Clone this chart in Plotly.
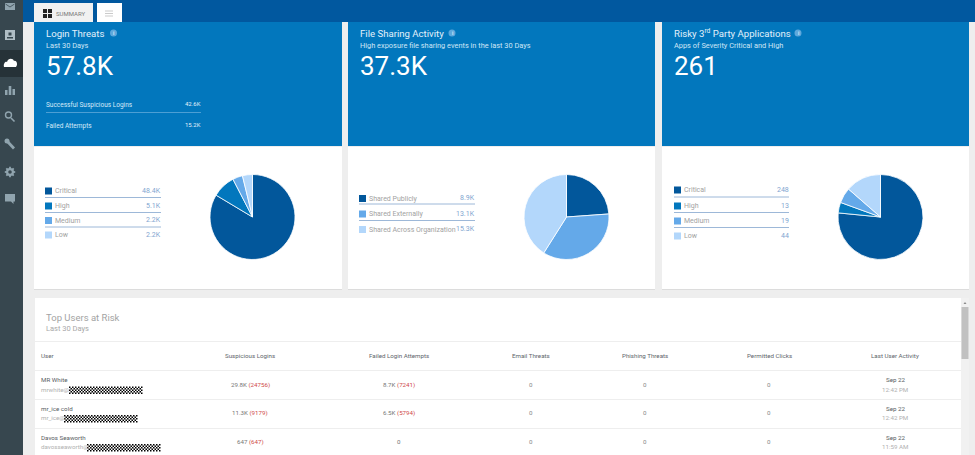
import plotly.graph_objects as go

# card headers
card_titles = ["Login Threats", "File Sharing Activity", "Risky 3<sup>rd</sup> Party Applications"]
card_subtitles = ["Last 30 Days", "High exposure file sharing events in the last 30 Days", "Apps of Severity Critical and High"]
card_totals = ["57.8K", "37.3K", "261"]
login_rows = ["Successful Suspicious Logins", "Failed Attempts"]
login_values = ["42.6K", "15.2K"]

# pies
login_labels = ["Critical", "High", "Medium", "Low"]
login_counts = [48400, 5100, 2200, 2200]
login_texts = ["48.4K", "5.1K", "2.2K", "2.2K"]
share_labels = ["Shared Publicly", "Shared Externally", "Shared Across Organization"]
share_counts = [8900, 13100, 15300]
share_texts = ["8.9K", "13.1K", "15.3K"]
app_labels = ["Critical", "High", "Medium", "Low"]
app_counts = [248, 13, 19, 44]
app_texts = ["248", "13", "19", "44"]

# table
table_headers = ["Suspicious Logins", "Failed Login Attempts", "Email Threats", "Phishing Threats", "Permitted Clicks", "Last User Activity"]
user_names = ["MR White", "mr_ice cold", "Davos Seaworth"]
user_mails = ["mrwhite@", "mr_ice@", "davosseaworth@"]
suspicious = [("29.8K", "(24756)"), ("11.3K", "(9179)"), ("647", "(647)")]
failed = [("8.7K", "(7241)"), ("6.5K", "(5794)"), ("0", "")]
email_threats = ["0", "0", "0"]
phishing_threats = ["0", "0", "0"]
permitted_clicks = ["0", "0", "0"]
last_dates = ["Sep 22", "Sep 22", "Sep 22"]
last_times = ["12:42 PM", "12:42 PM", "11:59 AM"]

DARK = "#02579b"
BLUE = "#0277bd"
MID = "#64a9e9"
LIGHT = "#b3d7fb"
TEXT = "#60656b"
FONT = "Roboto"
W, H = 975, 455

fig = go.Figure()
# invisible trace so the pixel axes exist
fig.add_trace(go.Scatter(x=[], y=[], showlegend=False, hoverinfo="skip"))


def rect(x0, y0, x1, y1, color):
    fig.add_shape(type="rect", x0=x0, y0=y0, x1=x1, y1=y1, fillcolor=color,
                  line_width=0, layer="below")


def hline(x0, x1, y, color="#9db8d8", width=1):
    fig.add_shape(type="line", x0=x0, x1=x1, y0=y, y1=y, layer="below",
                  line=dict(color=color, width=width))


def path(d, color):
    fig.add_shape(type="path", path=d, fillcolor=color, line_width=0, layer="below")


def label(x, y, text, size=7, color=TEXT, anchor="left"):
    fig.add_annotation(x=x, y=y, text=text, showarrow=False, xanchor=anchor, yanchor="middle",
                       font=dict(family=FONT, size=size, color=color), borderpad=0, borderwidth=0)


def add_pie(cx, counts, names, colors):
    cy, r = 217, 42.5
    fig.add_trace(go.Pie(values=counts, labels=names, sort=False, direction="clockwise", rotation=0,
                         textinfo="none", hoverinfo="skip", showlegend=False,
                         marker=dict(colors=colors, line=dict(color="white", width=0.8)),
                         domain=dict(x=[(cx - r) / W, (cx + r) / W], y=[1 - (cy + r) / H, 1 - (cy - r) / H])))


def add_legend(x0, x1, rows, lines, names, texts, colors):
    for y, name, txt, col in zip(rows, names, texts, colors):
        rect(x0, y - 3.5, x0 + 7, y + 3.5, col)
        label(x0 + 10, y, name, 7, "#a2a2a2")
        label(x1, y - 0.5, txt, 7, "#7fa6d0", "right")
    for y in lines:
        hline(x0, x1, y)


def checker(x0, x1, y0, y1):
    # redacted part of the mail address
    cells, y, j = [], y0, 0
    while y < y1:
        x, i = x0, 0
        while x < x1:
            if (i + j) % 2 == 0:
                cells.append(f"M{x},{y}H{x + 1.5}V{y + 1.5}H{x}Z")
            x += 1.5
            i += 1
        y += 1.5
        j += 1
    path("".join(cells), "#000000")


# page chrome
rect(0, 0, W, H, "#eeeeee")
rect(23, 0, W, 22, "#01589f")
rect(0, 0, 23, H, "#37474f")
rect(0, 50, 23, 77, "#263238")
rect(34, 3, 93, 22, "#f1f1f1")
rect(97, 3, 122, 22, "#ffffff")
for sx, sy in [(43, 9), (48, 9), (43, 14), (48, 14)]:
    rect(sx, sy, sx + 4, sy + 4, "#222222")
label(56, 13, "SUMMARY", 6, "#777777")
for ly in [11, 13.5, 16]:
    hline(105, 113, ly, "#b5b5b5", 0.7)

# side icons
ICON = "#90a4ae"
path("M5,3H15V10H5Z", ICON)
fig.add_shape(type="path", path="M5.5,4L10,7L14.5,4", line=dict(color="#37474f", width=0.8), layer="below")
path("M5,30H15V40H5Z", "#b0bec5")
path("M8.5,32.5H11.5V35.5H8.5ZM7,37H13V38.5H7Z", "#37474f")
path("M4,67C3,63 6,61 7,62C8,58 13,58 14,61C17,60 18,65 16,67Z", "#ffffff")
path("M5,90H7.5V95H5ZM8.7,86H11.3V95H8.7ZM12.5,89H15V95H12.5Z", ICON)
fig.add_shape(type="circle", x0=5.5, y0=112, x1=11.5, y1=118, line=dict(color=ICON, width=1.4), layer="below")
fig.add_shape(type="line", x0=11, y0=118, x1=14.5, y1=121.5, line=dict(color=ICON, width=1.6), layer="below")
fig.add_shape(type="line", x0=7, y0=141, x1=14, y1=148.5, line=dict(color=ICON, width=2.8), layer="below")
fig.add_shape(type="circle", x0=4.5, y0=138.5, x1=9.5, y1=143.5, fillcolor=ICON, line_width=0, layer="below")
fig.add_shape(type="circle", x0=6, y0=168, x1=14, y1=176, fillcolor=ICON, line_width=0, layer="below")
for tx0, ty0, tx1, ty1 in [(10, 166.8, 10, 177.2), (4.8, 172, 15.2, 172), (6.3, 168.3, 13.7, 175.7), (13.7, 168.3, 6.3, 175.7)]:
    fig.add_shape(type="line", x0=tx0, y0=ty0, x1=tx1, y1=ty1, line=dict(color=ICON, width=1.8), layer="below")
fig.add_shape(type="circle", x0=8.2, y0=170.2, x1=11.8, y1=173.8, fillcolor="#37474f", line_width=0, layer="below")
path("M5,194H15V201.5H13.5V204L11,201.5H5Z", ICON)

# cards
card_x = [(34, 342), (348, 655), (662, 969)]
text_x = [46, 360, 674]
info_x = [113.5, 452, 798]
for (x0, x1), tx, ix, title, sub, total in zip(card_x, text_x, info_x, card_titles, card_subtitles, card_totals):
    rect(x0, 22, x1, 146, BLUE)
    rect(x0, 147, x1, 289, "#ffffff")
    hline(x0, x1, 289.5, "#dcdcdc", 1)
    label(tx, 33, title, 9.6, "#e3f1fb")
    label(tx, 45.5, sub, 7.4, "#cfe6f6")
    label(tx, 66, total, 26, "#ffffff")
    fig.add_shape(type="circle", x0=ix - 3.5, y0=29.5, x1=ix + 3.5, y1=36.5, fillcolor="#5ea8dc", line_width=0, layer="below")
    label(ix, 33, "i", 5.5, "#ffffff", "center")

# login breakdown on blue
label(46, 104.5, login_rows[0], 6.5, "#d6eaf8")
label(201, 103.5, login_values[0], 6, "#e3f1fb", "right")
hline(46, 201, 112.5, "#4d9fd4")
label(46, 125.5, login_rows[1], 6.5, "#d6eaf8")
label(201, 124.5, login_values[1], 6, "#e3f1fb", "right")

# legends and pies
add_legend(45, 161, [191, 206, 220.5, 235], [197.5, 212.5, 227], login_labels, login_texts, [DARK, BLUE, MID, LIGHT])
add_legend(359, 475, [198.5, 214, 229.5], [204, 220.5], share_labels, share_texts, [DARK, MID, LIGHT])
add_legend(674, 789, [190, 206, 221, 236], [197, 212.5, 227.5], app_labels, app_texts, [DARK, BLUE, MID, LIGHT])
add_pie(252.5, login_counts, login_labels, [DARK, BLUE, MID, LIGHT])
add_pie(566.5, share_counts, share_labels, [DARK, MID, LIGHT])
add_pie(880.5, app_counts, app_labels, [DARK, BLUE, MID, LIGHT])

# table panel
rect(35, 298, 961, H, "#ffffff")
rect(961, 298, 969, H, "#f1f1f1")
rect(961.5, 307, 968.5, 359, "#c1c1c1")
path("M963.5,304L965,302L966.5,304Z", "#8a8a8a")
label(46, 317, "Top Users at Risk", 9.5, "#a3a3a3")
label(46, 328.5, "Last 30 Days", 7.5, "#a8a8a8")
for ly in [341.5, 370.5, 399.5, 428.5]:
    hline(35, 961, ly, "#eeeeee")

col_x = [250, 399, 531, 645, 769, 895]
label(41, 355.5, "User", 6.2, TEXT)
for cx, head in zip(col_x, table_headers):
    label(cx, 355.5, head, 6.2, TEXT, "center")

row_mid = [384.5, 413, 442]
mask_x = [(69, 142), (64, 137), (87, 160)]
for i, ym in enumerate(row_mid):
    label(41, ym - 4.5, user_names[i], 6.2, "#585d63")
    label(41, ym + 5, user_mails[i], 6.2, "#b0b0b0")
    checker(mask_x[i][0], mask_x[i][1], ym + 2, ym + 8.5)
    for cx, pair in zip(col_x[:2], [suspicious[i], failed[i]]):
        red = f" <span style='color:#cf4a4a'>{pair[1]}</span>" if pair[1] else ""
        label(cx, ym, pair[0] + red, 6.2, "#777777", "center")
    for cx, val in zip(col_x[2:5], [email_threats[i], phishing_threats[i], permitted_clicks[i]]):
        label(cx, ym, val, 6.2, "#888888", "center")
    label(col_x[5], ym - 4.5, last_dates[i], 6.2, "#585d63", "center")
    label(col_x[5], ym + 5, last_times[i], 6.2, "#b0b0b0", "center")

fig.update_layout(
    width=W, height=H, margin=dict(l=0, r=0, t=0, b=0, pad=0),
    paper_bgcolor="#eeeeee", plot_bgcolor="rgba(0,0,0,0)", showlegend=False,
    xaxis=dict(range=[0, W], visible=False, fixedrange=True, domain=[0, 1]),
    yaxis=dict(range=[H, 0], visible=False, fixedrange=True, domain=[0, 1]),
)

fig.write_html("out.html", post_script="document.body.style.margin='0';document.body.style.overflow='hidden';",
               config=dict(displayModeBar=False))
